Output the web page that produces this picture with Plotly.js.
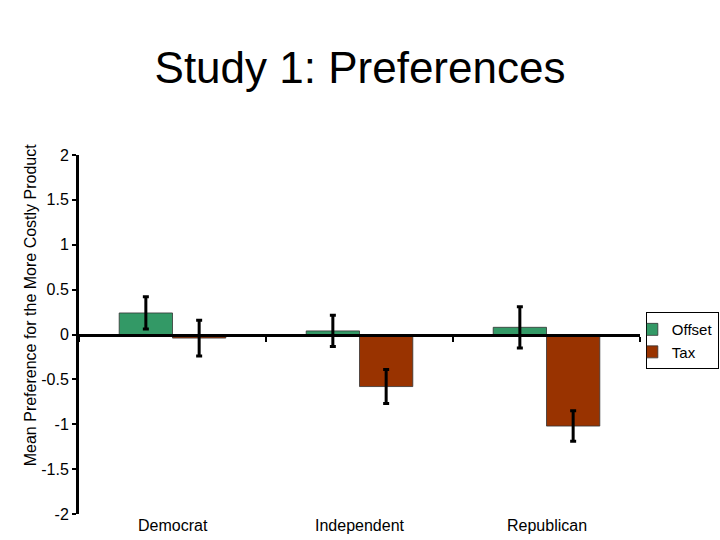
<!DOCTYPE html>
<html>
<head>
<meta charset="utf-8">
<script src="https://cdn.plot.ly/plotly-3.0.1.min.js"></script>
<style>
  html, body { margin: 0; padding: 0; background: #fff; }
  #chart { width: 720px; height: 540px; }
</style>
</head>
<body>
<div id="chart"></div>
<script>
// Values
const categories = ['Democrat', 'Independent', 'Republican'];
const offsetMeans = [0.24, 0.04, 0.08];
const offsetErrors = [0.18, 0.175, 0.23];
const taxMeans = [-0.04, -0.58, -1.02];
const taxErrors = [0.20, 0.19, 0.17];
const yTickVals = [2, 1.5, 1, 0.5, 0, -0.5, -1, -1.5, -2];
const yTickText = ['2', '1.5', '1', '0.5', '0', '-0.5', '-1', '-1.5', '-2'];

const FONT = 'Liberation Sans, Arial, sans-serif';

function barTrace(name, values, errors, color) {
    return {
        type: 'bar',
        name: name,
        x: categories,
        y: values,
        marker: { color: color, line: { color: '#333', width: 0.8 } },
        error_y: { type: 'data', array: errors, visible: true, color: '#000', thickness: 3, width: 3 }
    };
}

const traces = [
    barTrace('Offset', offsetMeans, offsetErrors, '#339966'),
    barTrace('Tax', taxMeans, taxErrors, '#993300')
];

// category names sit under the plot, while the axis line runs through zero
const catLabels = categories.map(c => ({
    text: c, x: c, xref: 'x', y: -0.033, yref: 'paper',
    showarrow: false, yanchor: 'middle',
    font: { family: FONT, size: 16, color: '#000' }
}));

const layout = {
    width: 720,
    height: 540,
    paper_bgcolor: '#fff',
    plot_bgcolor: '#fff',
    margin: { l: 79, r: 80, t: 155, b: 26, autoexpand: false },
    font: { family: FONT, color: '#000' },
    title: {
        text: 'Study 1: Preferences',
        font: { family: FONT, size: 44, color: '#000' },
        x: 0.5, xanchor: 'center', y: 0.874, yanchor: 'middle'
    },
    barmode: 'group',
    bargap: 0.43,
    bargroupgap: 0,
    xaxis: {
        anchor: 'free',
        position: 0.5,
        showline: true,
        linecolor: '#000',
        linewidth: 3,
        ticks: 'outside',
        tickson: 'boundaries',
        ticklen: 5,
        tickwidth: 2,
        tickcolor: '#000',
        showticklabels: false,
        showgrid: false,
        zeroline: false
    },
    yaxis: {
        range: [-2, 2],
        tickvals: yTickVals,
        ticktext: yTickText,
        showline: true,
        linecolor: '#000',
        linewidth: 3,
        ticks: 'outside',
        ticklen: 4,
        tickwidth: 2,
        tickcolor: '#000',
        tickfont: { family: FONT, size: 16, color: '#000' },
        showgrid: false,
        zeroline: false
    },
    legend: {
        xref: 'container', x: 0.897, xanchor: 'left',
        yref: 'container', y: 0.422, yanchor: 'top',
        bordercolor: '#000',
        borderwidth: 1,
        bgcolor: '#fff',
        font: { family: FONT, size: 15, color: '#000' },
        tracegroupgap: 0,
        itemwidth: 30,
        indentation: -15
    },
    annotations: catLabels.concat([{
        text: 'Mean Preference for the More Costly Product',
        xref: 'paper', x: -0.087, yref: 'paper', y: 0.582,
        textangle: -90, showarrow: false,
        xanchor: 'center', yanchor: 'middle',
        font: { family: FONT, size: 16, color: '#000' }
    }])
};

Plotly.newPlot('chart', traces, layout, { displayModeBar: false, staticPlot: true });
</script>
</body>
</html>
